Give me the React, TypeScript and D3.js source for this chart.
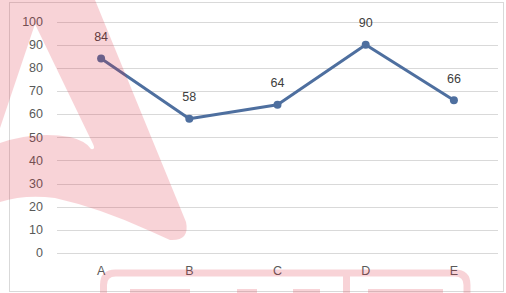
import React from 'react';
import * as d3 from 'd3';

const categories = ['A', 'B', 'C', 'D', 'E'];
const values = [84, 58, 64, 90, 66];
const yTicks = [0, 10, 20, 30, 40, 50, 60, 70, 80, 90, 100];

const W = 506;
const H = 293;

const App = () => {
  const svgRef = React.useRef<SVGSVGElement>(null);

  React.useEffect(() => {
    const svg = d3.select(svgRef.current);
    svg.selectAll('*').remove();

    const font = '"Liberation Sans", Arial, sans-serif';

    // chart area frame
    svg.append('rect')
      .attr('x', 9.5).attr('y', 2.5)
      .attr('width', 494).attr('height', 289)
      .attr('fill', '#fff')
      .attr('stroke', '#d9d9d9');

    const x = d3.scaleBand()
      .domain(categories)
      .range([57, 498]);

    const y = d3.scaleLinear()
      .domain([0, 100])
      .range([253, 21.5]);

    // gridlines
    svg.append('g')
      .selectAll('line')
      .data(yTicks)
      .enter()
        .append('line')
        .attr('x1', 57)
        .attr('x2', 498)
        .attr('y1', d => Math.round(y(d)) + 0.5)
        .attr('y2', d => Math.round(y(d)) + 0.5)
        .attr('stroke', '#d9d9d9');

    // y labels
    svg.append('g')
      .selectAll('text')
      .data(yTicks)
      .enter()
        .append('text')
        .attr('x', 43)
        .attr('y', d => y(d))
        .attr('dy', '0.35em')
        .attr('text-anchor', 'end')
        .style('font-family', font)
        .style('font-size', '12.5px')
        .attr('fill', '#595959')
        .text(d => d);

    // x labels
    svg.append('g')
      .selectAll('text')
      .data(categories)
      .enter()
        .append('text')
        .attr('x', d => x(d)! + x.bandwidth() / 2)
        .attr('y', 271)
        .attr('dy', '0.35em')
        .attr('text-anchor', 'middle')
        .style('font-family', font)
        .style('font-size', '12.5px')
        .attr('fill', '#595959')
        .text(d => d);

    const pts = categories.map((c, i) => ({ c, v: values[i] }));

    const line = d3.line<{ c: string; v: number }>()
      .x(d => x(d.c)! + x.bandwidth() / 2)
      .y(d => y(d.v));

    svg.append('path')
      .datum(pts)
      .attr('d', line)
      .attr('fill', 'none')
      .attr('stroke', '#4e6f9f')
      .attr('stroke-width', 3)
      .attr('stroke-linejoin', 'round');

    svg.append('g')
      .selectAll('circle')
      .data(pts)
      .enter()
        .append('circle')
        .attr('cx', d => x(d.c)! + x.bandwidth() / 2)
        .attr('cy', d => y(d.v))
        .attr('r', 4)
        .attr('fill', '#4e6f9f');

    svg.append('g')
      .selectAll('text')
      .data(pts)
      .enter()
        .append('text')
        .attr('x', d => x(d.c)! + x.bandwidth() / 2)
        .attr('y', d => y(d.v) - 22)
        .attr('dy', '0.35em')
        .attr('text-anchor', 'middle')
        .style('font-family', font)
        .style('font-size', '12.5px')
        .attr('fill', '#404040')
        .text(d => d.v);

    // watermark overlay
    const wm = svg.append('g')
      .attr('fill', 'rgb(225,40,60)')
      .attr('opacity', 0.2);

    wm.append('path')
      .attr('fill-rule', 'evenodd')
      .attr('d',
        'M0,0 L95,0 L186,222 Q190,241 170,240 L150,231 Q100,208 55,198 Q25,194 0,202 Z ' +
        'M35,24 L0,128 L0,143 Q35,131 70,137 Q86,141 91,149 Q96,150 93,144 Z');

    wm.append('path')
      .attr('fill', 'none')
      .attr('stroke', 'rgb(225,40,60)')
      .attr('stroke-width', 7)
      .attr('d', 'M103.5,300 L103.5,285 Q103.5,273 115.5,273 L455,273 Q467,273 467,285 L467,300 M346.5,273 L346.5,300');

    [[130, 60], [237, 20], [293, 27], [368, 75]].forEach(([bx, bw]) => {
      wm.append('rect')
        .attr('x', bx).attr('y', 289)
        .attr('width', bw).attr('height', 4);
    });
  }, []);

  return (
    <svg
      ref={svgRef}
      width={W}
      height={H}
      style={{ position: 'absolute', left: 0, top: 0, background: '#fff' }}
    />
  );
};

export default App;
